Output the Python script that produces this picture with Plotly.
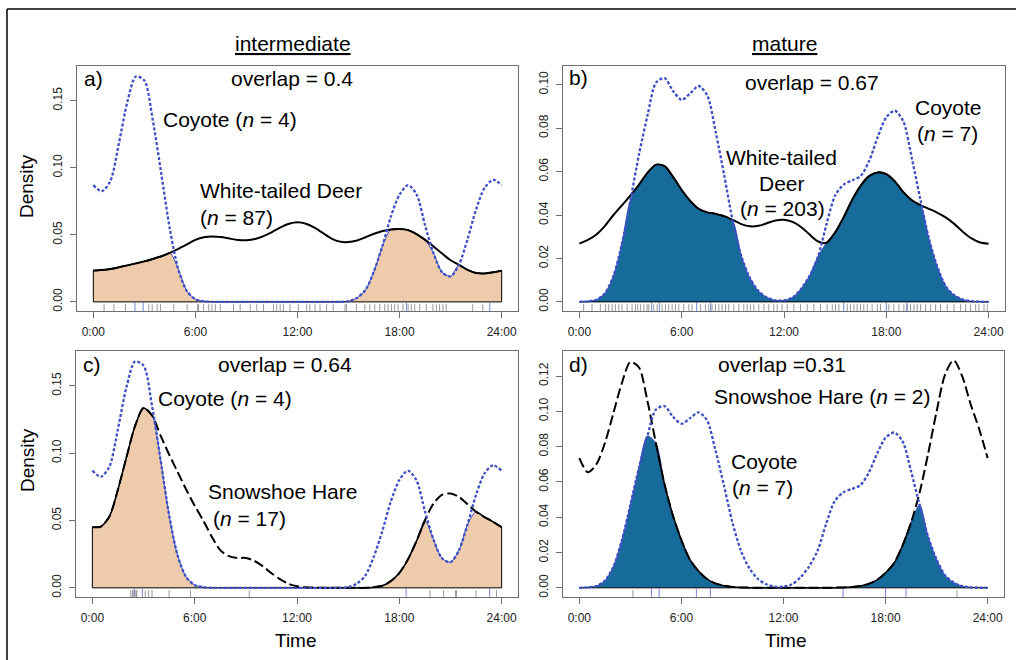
import plotly.graph_objects as go
import numpy as np

# ---------------- data ----------------
hours = [i * 0.5 for i in range(49)]  # 0:00 .. 24:00 every half hour

coyote_int = [0.087, 0.0825, 0.090, 0.118, 0.149, 0.168, 0.165, 0.135, 0.095, 0.054,
              0.024, 0.008, 0.002, 0.0005, 0.0, 0.0, 0.0, 0.0, 0.0, 0.0,
              0.0, 0.0, 0.0, 0.0, 0.0, 0.0, 0.0, 0.0, 0.0, 0.0,
              0.0005, 0.003, 0.009, 0.023, 0.042, 0.064, 0.080, 0.087, 0.080, 0.057,
              0.036, 0.022, 0.019, 0.028, 0.047, 0.069, 0.085, 0.091, 0.087]

deer_int = [0.0233, 0.0238, 0.0245, 0.0258, 0.0272, 0.0287, 0.0302, 0.032, 0.034, 0.0365,
            0.0395, 0.0428, 0.0462, 0.0482, 0.0488, 0.0483, 0.0472, 0.0462, 0.046, 0.0468,
            0.049, 0.052, 0.0555, 0.0582, 0.0593, 0.0582, 0.0553, 0.0512, 0.0472, 0.0449,
            0.0446, 0.0458, 0.0482, 0.0508, 0.0528, 0.054, 0.0543, 0.0535, 0.0505, 0.0462,
            0.0413, 0.036, 0.031, 0.0275, 0.0238, 0.0215, 0.0212, 0.022, 0.0233]

hare_int = [0.045, 0.0455, 0.053, 0.073, 0.097, 0.120, 0.1335, 0.128, 0.113, 0.099,
            0.086, 0.073, 0.061, 0.050, 0.038, 0.028, 0.0235, 0.0222, 0.0222, 0.020,
            0.016, 0.0108, 0.0065, 0.003, 0.0012, 0.0005, 0.0002, 0.0, 0.0, 0.0,
            0.0, 0.0, 0.0, 0.0005, 0.0015, 0.005, 0.011, 0.021, 0.0345, 0.050,
            0.0625, 0.069, 0.070, 0.0675, 0.062, 0.0565, 0.0525, 0.049, 0.045]

coyote_mat = [0.0, 0.0003, 0.001, 0.004, 0.012, 0.027, 0.047, 0.068, 0.086, 0.101,
              0.103, 0.097, 0.093, 0.096, 0.0994, 0.095, 0.078, 0.058, 0.037, 0.021,
              0.011, 0.005, 0.002, 0.0007, 0.0007, 0.002, 0.006, 0.012, 0.021, 0.036,
              0.049, 0.054, 0.056, 0.058, 0.065, 0.076, 0.085, 0.088, 0.083, 0.066,
              0.047, 0.029, 0.016, 0.007, 0.003, 0.001, 0.0003, 0.0001, 0.0]

deer_mat = [0.0268, 0.0285, 0.031, 0.035, 0.040, 0.0445, 0.049, 0.054, 0.0595, 0.0632,
            0.0625, 0.0575, 0.0515, 0.0465, 0.0428, 0.0412, 0.0405, 0.0395, 0.0377, 0.0358,
            0.0348, 0.035, 0.0362, 0.0375, 0.0378, 0.0368, 0.0345, 0.031, 0.0278, 0.0272,
            0.032, 0.039, 0.047, 0.0535, 0.058, 0.0596, 0.0588, 0.0555, 0.0505, 0.0468,
            0.0445, 0.0428, 0.041, 0.0388, 0.0358, 0.0322, 0.0292, 0.0273, 0.0268]

hare_mat = [0.0735, 0.0655, 0.070, 0.082, 0.099, 0.116, 0.128, 0.125, 0.106, 0.082,
            0.059, 0.041, 0.027, 0.016, 0.0095, 0.005, 0.0025, 0.0012, 0.0005, 0.0002,
            0.0001, 0.0, 0.0, 0.0, 0.0, 0.0, 0.0, 0.0, 0.0, 0.0,
            0.0001, 0.0002, 0.0004, 0.001, 0.0022, 0.0045, 0.0085, 0.014, 0.024, 0.037,
            0.054, 0.076, 0.100, 0.121, 0.129, 0.120, 0.104, 0.090, 0.0735]

# rug (observation times, hours)
rug_deer_int = [0.63, 1.21, 1.89, 3.26, 3.46, 3.75, 3.95, 4.73, 5.51, 6.13, 6.19, 6.48, 6.78,
                6.97, 7.17, 7.46, 8.24, 8.63, 9.22, 9.61, 10.0, 10.59, 10.78, 10.98, 11.17,
                11.56, 12.05, 12.54, 12.73, 13.03, 13.32, 13.71, 14.1, 14.79, 14.88, 15.47,
                15.96, 16.25, 16.54, 16.84, 17.13, 17.32, 17.52, 17.71, 17.91, 18.2, 18.5,
                18.69, 18.89, 19.18, 19.57, 19.96, 20.16, 20.35, 20.55, 20.74, 22.3, 22.89]
rug_coyote_int = [2.45, 2.93, 18.4, 23.3]
rug_hare_int = [2.25, 2.35, 2.45, 2.55, 2.6, 3.1, 3.3, 3.5, 4.5, 5.75, 9.2, 19.8, 20.6,
                21.3, 21.35, 22.5, 23.7]
rug_deer_mat = [0.25, 0.74, 1.23, 1.53, 1.72, 1.92, 2.11, 2.31, 2.5, 2.8, 3.09, 3.29, 3.42,
                3.58, 3.78, 3.97, 4.07, 4.36, 4.56, 4.85, 5.05, 5.24, 5.44, 5.63, 5.83, 6.12,
                6.42, 6.61, 7.1, 7.39, 7.59, 7.78, 7.98, 8.18, 8.37, 8.57, 8.76, 9.06, 9.35,
                9.64, 9.84, 10.03, 10.23, 10.52, 10.82, 11.11, 11.4, 11.6, 11.89, 12.19,
                12.58, 12.97, 13.36, 13.75, 14.14, 14.53, 14.83, 15.02, 15.22, 15.71, 15.9,
                16.1, 16.29, 16.49, 16.68, 16.88, 17.17, 17.47, 17.66, 18.15, 18.44, 18.74,
                19.03, 19.23, 19.42, 19.62, 19.81, 20.01, 20.3, 20.6, 20.89, 21.18, 21.57,
                21.97, 22.36, 22.65, 22.94, 23.24, 23.43, 23.73, 23.92]
rug_coyote_mat = [4.24, 4.69, 6.88, 7.7, 15.5, 18.0, 19.2]
rug_hare_mat = [3.15, 22.2]

x_tick_vals = [0, 6, 12, 18, 24]
x_tick_text = ["0:00", "6:00", "12:00", "18:00", "24:00"]
y_ticks_a = [0.00, 0.05, 0.10, 0.15]
y_ticks_b = [0.00, 0.02, 0.04, 0.06, 0.08, 0.10]
y_ticks_c = [0.00, 0.05, 0.10, 0.15]
y_ticks_d = [0.00, 0.02, 0.04, 0.06, 0.08, 0.10, 0.12]

# ---------------- styling ----------------
W, H = 1016, 660
FONT = "Liberation Sans, Arial, Helvetica, sans-serif"
TAN = "#EECBAA"
TEAL = "#176B9A"
BLUE = "#3D4FC4"
GRAY = "#6f6f6f"


def px_x(p):
    return p / W


def px_y(p):
    return 1 - p / H


panels = [
    dict(ax="", dom=(77, 518, 66, 311), yr=[-0.0068, 0.1758], yt=y_ticks_a, other=deer_int, dash="solid",
         fill=TAN, rug_o=rug_deer_int, rug_c=rug_coyote_int, coy=coyote_int),
    dict(ax="2", dom=(563, 1005, 66, 311), yr=[-0.0042, 0.1086], yt=y_ticks_b, other=deer_mat, dash="solid",
         fill=TEAL, rug_o=rug_deer_mat, rug_c=rug_coyote_mat, coy=coyote_mat),
    dict(ax="3", dom=(76, 518, 351, 597), yr=[-0.0068, 0.1758], yt=y_ticks_c, other=hare_int, dash="10px,4px",
         fill=TAN, rug_o=rug_hare_int, rug_c=rug_coyote_int, coy=coyote_int),
    dict(ax="4", dom=(563, 1004, 351, 597), yr=[-0.0052, 0.1342], yt=y_ticks_d, other=hare_mat, dash="10px,4px",
         fill=TEAL, rug_o=rug_hare_mat, rug_c=rug_coyote_mat, coy=coyote_mat),
]

fig = go.Figure()
shapes = []
layout_axes = {}

for p in panels:
    xa = "x" + p["ax"]
    ya = "y" + p["ax"]
    other = np.array(p["other"])
    coy = np.array(p["coy"])
    overlap = np.minimum(other, coy)

    # overlap area
    fig.add_trace(go.Scatter(x=hours, y=overlap, mode="lines", fill="tozeroy", fillcolor=p["fill"],
                             line=dict(color=BLUE, width=1, shape="spline", smoothing=0.8),
                             xaxis=xa, yaxis=ya, showlegend=False, hoverinfo="skip"))
    # polygon border (ends and base)
    fig.add_trace(go.Scatter(x=[hours[0], hours[0], hours[-1], hours[-1]],
                             y=[overlap[0], 0, 0, overlap[-1]], mode="lines",
                             line=dict(color="black", width=1), xaxis=xa, yaxis=ya,
                             showlegend=False, hoverinfo="skip"))
    # solid border where the non-coyote species is the lower curve
    masked = [float(o) if o <= c else None for o, c in zip(other, coy)]
    fig.add_trace(go.Scatter(x=hours, y=masked, mode="lines",
                             line=dict(color="black", width=1.5, shape="spline", smoothing=0.8),
                             connectgaps=False, xaxis=xa, yaxis=ya, showlegend=False, hoverinfo="skip"))
    # other species curve
    fig.add_trace(go.Scatter(x=hours, y=other, mode="lines",
                             line=dict(color="black", width=2, dash=p["dash"], shape="spline", smoothing=0.8),
                             xaxis=xa, yaxis=ya, showlegend=False, hoverinfo="skip"))
    # coyote curve
    fig.add_trace(go.Scatter(x=hours, y=coy, mode="lines",
                             line=dict(color=BLUE, width=2.3, dash="3px,2px", shape="spline", smoothing=0.8),
                             xaxis=xa, yaxis=ya, showlegend=False, hoverinfo="skip"))

    # rugs
    for t in p["rug_o"]:
        shapes.append(dict(type="line", xref=xa, yref=ya + " domain", x0=t, x1=t, y0=0, y1=0.028,
                           line=dict(color="rgba(0,0,0,0.4)", width=1)))
    for t in p["rug_c"]:
        shapes.append(dict(type="line", xref=xa, yref=ya + " domain", x0=t, x1=t, y0=0, y1=0.035,
                           line=dict(color="rgba(60,80,200,0.7)", width=1)))

    x0, x1, yt, yb = p["dom"]
    layout_axes["xaxis" + p["ax"]] = dict(
        domain=[px_x(x0), px_x(x1)], range=[-0.96, 24.96], anchor=ya,
        tickvals=x_tick_vals, ticktext=x_tick_text, ticks="outside", ticklen=6, tickcolor=GRAY,
        tickwidth=1, showline=True, mirror=True, linecolor=GRAY, linewidth=1,
        showgrid=False, zeroline=False, tickfont=dict(family=FONT, size=12, color="#222"),
        ticklabelstandoff=4)
    layout_axes["yaxis" + p["ax"]] = dict(
        domain=[px_y(yb), px_y(yt)], range=p["yr"], anchor=xa,
        tickvals=p["yt"], ticktext=[f"{v:.2f}" for v in p["yt"]], ticks="outside", ticklen=6,
        tickcolor=GRAY, tickwidth=1, showline=True, mirror=True, linecolor=GRAY, linewidth=1,
        showgrid=False, zeroline=False, tickangle=-90,
        tickfont=dict(family=FONT, size=12, color="#222"), ticklabelstandoff=3)

# outer frame (top and left edges visible)
shapes.append(dict(type="line", xref="paper", yref="paper", x0=px_x(7), x1=1.0, y0=px_y(9), y1=px_y(9),
                   line=dict(color="black", width=1.5)))
shapes.append(dict(type="line", xref="paper", yref="paper", x0=px_x(7), x1=px_x(7), y0=px_y(9), y1=0,
                   line=dict(color="black", width=1.5)))

ann = []


def A(text, x, y, size=21, xanchor="left", angle=0):
    ann.append(dict(text=text, x=px_x(x), y=px_y(y), xref="paper", yref="paper", showarrow=False,
                    xanchor=xanchor, yanchor="middle", textangle=angle,
                    font=dict(family=FONT, size=size, color="black")))


A("<u>intermediate</u>", 293, 43, xanchor="center")
A("<u>mature</u>", 784, 43, xanchor="center")

A("a)", 82, 79)
A("overlap = 0.4", 292, 79, xanchor="center")
A("Coyote (<i>n</i> = 4)", 161, 119)
A("White-tailed Deer", 198, 191)
A("(<i>n</i> = 87)", 198, 217)

A("b)", 567, 78)
A("overlap = 0.67", 812, 82, xanchor="center")
A("Coyote", 948, 107, xanchor="center")
A("(<i>n</i> = 7)", 947, 133, xanchor="center")
A("White-tailed", 781, 157, xanchor="center")
A("Deer", 782, 183, xanchor="center")
A("(<i>n</i> = 203)", 782, 208, xanchor="center")

A("c)", 81, 365)
A("overlap = 0.64", 285, 364, xanchor="center")
A("Coyote (<i>n</i> = 4)", 156, 398)
A("Snowshoe Hare", 206, 491)
A("(<i>n</i> = 17)", 211, 518)

A("d)", 567, 365)
A("overlap =0.31", 716, 365)
A("Snowshoe Hare (<i>n</i> = 2)", 712, 396)
A("Coyote", 729, 461)
A("(<i>n</i> = 7)", 730, 487)

A("Density", 27, 186, size=19, xanchor="center", angle=-90)
A("Density", 27, 460, size=19, xanchor="center", angle=-90)
A("Time", 296, 640, size=19, xanchor="center")
A("Time", 786, 640, size=19, xanchor="center")

fig.update_layout(width=W, height=H, margin=dict(l=0, r=0, t=0, b=0),
                  paper_bgcolor="white", plot_bgcolor="white", shapes=shapes, annotations=ann,
                  font=dict(family=FONT), **layout_axes)

fig.write_html("out.html", config={"displayModeBar": False},
               post_script="document.body.style.margin='0px';document.body.style.overflow='hidden';")
